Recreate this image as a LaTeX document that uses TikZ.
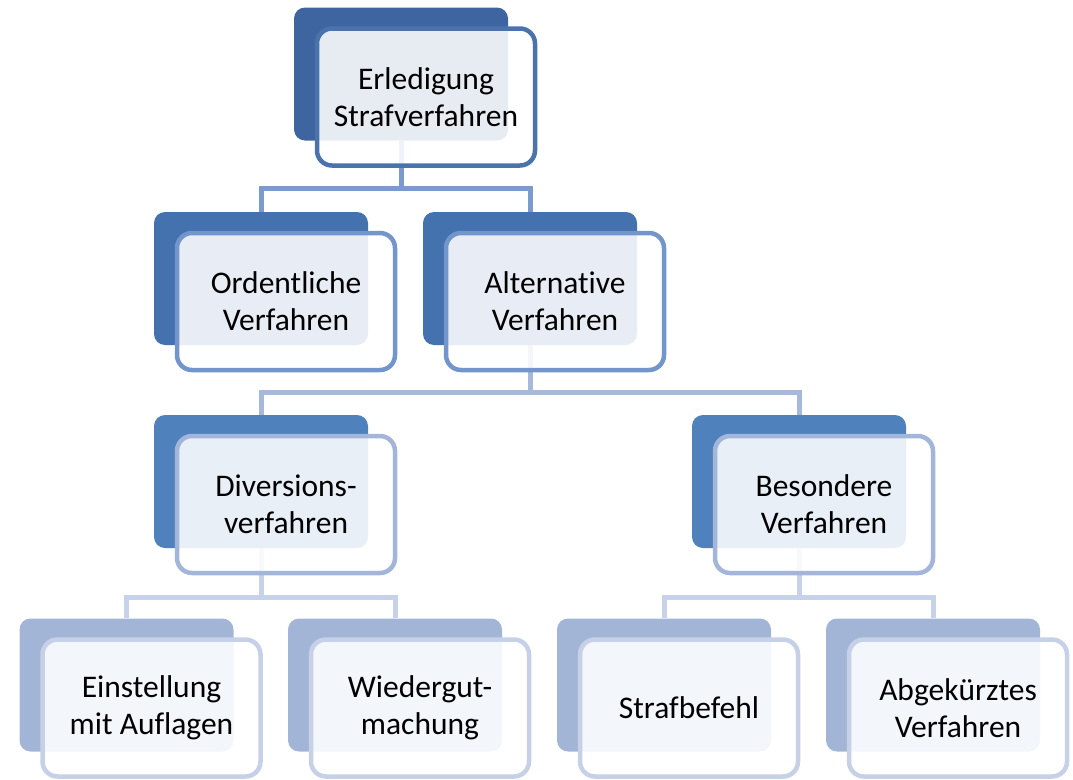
\documentclass[tikz,border=0pt]{standalone}
\usepackage{fontspec}
\setmainfont{Carlito}[Ligatures={NoCommon}]
\usetikzlibrary{calc}

% level colours: back plate, front frame, connector
\definecolor{backA}{HTML}{3F65A0}
\definecolor{frameA}{HTML}{4A73AD}
\definecolor{linkA}{HTML}{7B9BCF}
\definecolor{backB}{HTML}{4472AE}
\definecolor{frameB}{HTML}{7295CB}
\definecolor{linkB}{HTML}{A6B9DC}
\definecolor{backC}{HTML}{4F81BD}
\definecolor{frameC}{HTML}{A3B5D8}
\definecolor{linkC}{HTML}{C6D2E9}
\definecolor{backD}{HTML}{A3B5D6}
\definecolor{frameD}{HTML}{C6D1E7}

\tikzset{
  plate/.style={rectangle, rounded corners=11pt, minimum width=214pt,
    minimum height=133pt, inner sep=0pt, draw=none, fill=#1},
  card/.style={rectangle, rounded corners=15pt, minimum width=218pt,
    minimum height=137pt, inner sep=4pt, line width=4.5pt, draw=#1,
    fill=white, fill opacity=0.88, text opacity=1, align=center,
    font=\fontsize{31.5}{37}\selectfont},
  link/.style={line width=5pt, draw=#1}
}

\begin{document}
\begin{tikzpicture}[x=1pt, y=-1pt]
\useasboundingbox (0,0) rectangle (1073,779);

% back plates
\node[plate=backA] (top) at (401,74) {};
\node[plate=backB] (ord) at (261,278.5) {};
\node[plate=backB] (alt) at (530,278.5) {};
\node[plate=backC] (div) at (261,481.5) {};
\node[plate=backC] (bes) at (799,481.5) {};
\node[plate=backD] (ein) at (126.5,685) {};
\node[plate=backD] (wie) at (395,685) {};
\node[plate=backD] (stb) at (664,685) {};
\node[plate=backD] (abg) at (933,685) {};

% connectors
\draw[link=linkA] (top.south) -- ++(0,48) coordinate (j1);
\draw[link=linkA] (j1) -| (ord.north);
\draw[link=linkA] (j1) -| (alt.north);
\draw[link=linkB] (alt.south) -- ++(0,47) coordinate (j2);
\draw[link=linkB] (j2) -| (div.north);
\draw[link=linkB] (j2) -| (bes.north);
\draw[link=linkC] (div.south) -- ++(0,49) coordinate (j3);
\draw[link=linkC] (j3) -| (ein.north);
\draw[link=linkC] (j3) -| (wie.north);
\draw[link=linkC] (bes.south) -- ++(0,49) coordinate (j4);
\draw[link=linkC] (j4) -| (stb.north);
\draw[link=linkC] (j4) -| (abg.north);

% front cards with labels
\node[card=frameA] (topf) at ($(top.center)+(25,23)$) {Erledigung\\Strafverfahren};
\node[card=frameB] (ordf) at ($(ord.center)+(25,23)$) {Ordentliche\\Verfahren};
\node[card=frameB] (altf) at ($(alt.center)+(25,23)$) {Alternative\\Verfahren};
\node[card=frameC] (divf) at ($(div.center)+(25,23)$) {Diversions-\\verfahren};
\node[card=frameC] (besf) at ($(bes.center)+(25,23)$) {Besondere\\Verfahren};
\node[card=frameD] (einf) at ($(ein.center)+(25,23)$) {Einstellung\\mit Auflagen};
\node[card=frameD] (wief) at ($(wie.center)+(25,23)$) {Wiedergut-\\machung};
\node[card=frameD] (stbf) at ($(stb.center)+(25,23)$) {Strafbefehl};
\node[card=frameD] (abgf) at ($(abg.center)+(25,23)$) {Abgekürztes\\Verfahren};
\end{tikzpicture}
\end{document}
